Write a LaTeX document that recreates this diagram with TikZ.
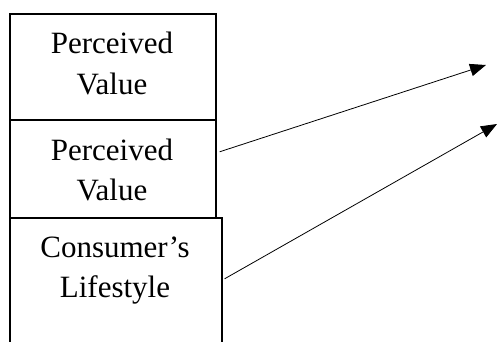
\documentclass[tikz,border=0pt]{standalone}
\usepackage{fontspec}
\setmainfont{Liberation Serif}
\usetikzlibrary{arrows.meta}
\tikzset{
  boxnode/.style={draw, line width=1.6pt, inner sep=0pt, anchor=north west},
  txt/.style={anchor=base, inner sep=0pt, font=\fontsize{31}{40}\selectfont},
  conn/.style={line width=0.8pt, -{Triangle[length=16pt,width=12.5pt]}}
}
\begin{document}
\begin{tikzpicture}[x=1pt,y=-1pt]
\useasboundingbox (0,0) rectangle (497,341);
\clip (0,0) rectangle (497,341);
\node[boxnode, minimum width=206pt, minimum height=106pt] (b1) at (9,13) {};
\node[boxnode, minimum width=206pt, minimum height=98pt] (b2) at (9,119) {};
\node[boxnode, minimum width=212pt, minimum height=140pt] (b3) at (9,217) {};
\node[txt] (t1a) at (112,53) {Perceived};
\node[txt] (t1b) at (112,94) {Value};
\node[txt] (t2a) at (112,160) {Perceived};
\node[txt] (t2b) at (112,200) {Value};
\node[txt] (t3a) at (115,257) {Consumer’s};
\node[txt] (t3b) at (115,297) {Lifestyle};
\coordinate (e1) at (486,65);
\coordinate (e2) at (497,124);
\draw[conn] ([shift={(3,-17)}]b2.east) -- (e1);
\draw[conn] ([shift={(2,-9)}]b3.east) -- (e2);
\end{tikzpicture}
\end{document}
